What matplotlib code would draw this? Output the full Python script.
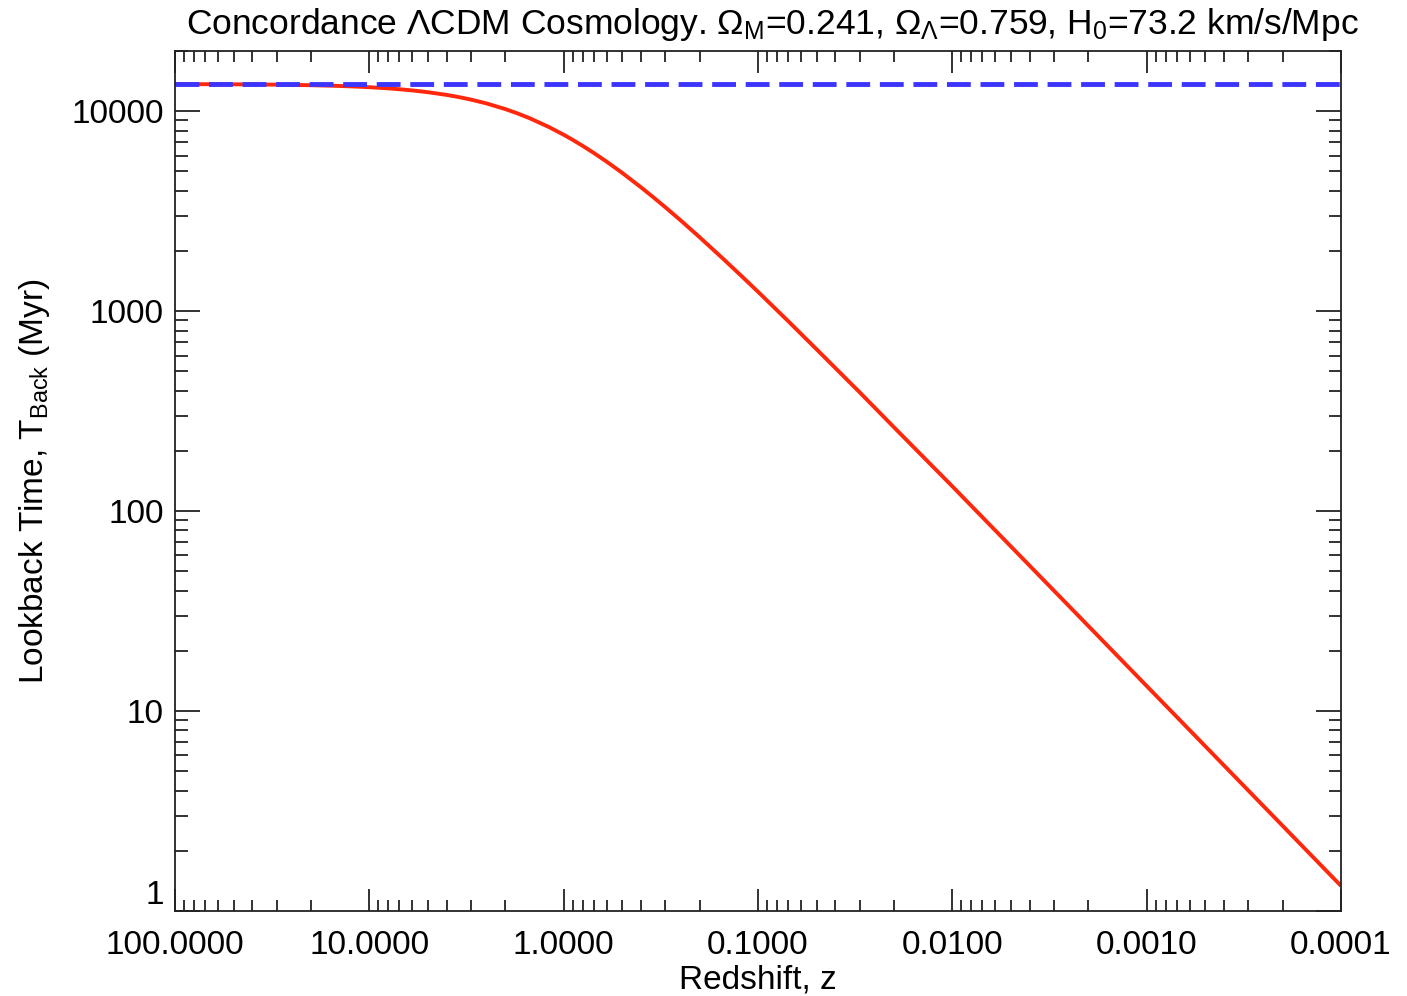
import numpy as np
import matplotlib
matplotlib.use("Agg")
import matplotlib.pyplot as plt
from matplotlib.ticker import LogLocator, FixedLocator, FixedFormatter, NullFormatter

plt.rcParams['font.family'] = ['Liberation Sans', 'DejaVu Sans']
plt.rcParams['mathtext.fontset'] = 'custom'
plt.rcParams['mathtext.rm'] = 'Liberation Sans'
plt.rcParams['mathtext.it'] = 'Liberation Sans'
plt.rcParams['mathtext.bf'] = 'Liberation Sans'

# redshift and lookback time (Myr)
z = [100, 70, 50, 40, 30, 20, 15, 12, 10, 8, 7, 6, 5, 4, 3.5, 3, 2.5, 2,
     1.75, 1.5, 1.2, 1.0, 0.9, 0.8, 0.7, 0.6, 0.5, 0.4, 0.35, 0.3, 0.25,
     0.2, 0.15, 0.12, 0.1, 0.07, 0.05, 0.03, 0.02, 0.01, 0.005, 0.002,
     0.001, 0.0005, 0.0001]
t_back = [13659, 13647, 13627, 13608, 13572, 13488, 13394, 13290, 13180,
          13006, 12876, 12699, 12446, 12061, 11788, 11428, 10939, 10250,
          9793, 9229, 8361, 7624, 7194, 6716, 6183, 5586, 4916, 4161, 3749,
          3310, 2843, 2345, 1815, 1480, 1250, 892, 645, 393, 263, 133, 66.6,
          26.7, 13.35, 6.68, 1.336]
# age of the universe (dashed line)
t_age = 13677

xticks = [100, 10, 1, 0.1, 0.01, 0.001, 0.0001]
xticklabels = ['100.0000', '10.0000', '1.0000', '0.1000', '0.0100', '0.0010', '0.0001']
yticks = [1, 10, 100, 1000, 10000]
yticklabels = ['1', '10', '100', '1000', '10000']

fig = plt.figure(figsize=(14.07, 9.96), dpi=100)
ax = fig.add_axes([0.1244, 0.0853, 0.9531 - 0.1244, 0.9488 - 0.0853])

ax.plot(z, t_back, color='#ff280c', lw=2.8, solid_capstyle='butt')
ax.plot([100, 0.0001], [t_age, t_age], color='#3c34ff', lw=3.5,
        dashes=(4.9, 2.0), solid_capstyle='butt', dash_capstyle='butt')

ax.set_xscale('log')
ax.set_yscale('log')
ax.set_xlim(100, 0.0001)
ax.set_ylim(1, 20000)

ax.xaxis.set_major_locator(FixedLocator(xticks))
ax.xaxis.set_major_formatter(FixedFormatter(xticklabels))
ax.xaxis.set_minor_locator(LogLocator(base=10, subs=np.arange(2, 10), numticks=20))
ax.xaxis.set_minor_formatter(NullFormatter())
ax.yaxis.set_major_locator(FixedLocator(yticks))
ax.yaxis.set_major_formatter(FixedFormatter(yticklabels))
ax.yaxis.set_minor_locator(LogLocator(base=10, subs=np.arange(2, 10), numticks=20))
ax.yaxis.set_minor_formatter(NullFormatter())

ax.tick_params(which='both', direction='in', top=True, right=True,
               labelsize=24, width=1.3, color='#222222')
ax.tick_params(axis='x', which='major', length=16, pad=14)
ax.tick_params(axis='x', which='minor', length=8)
ax.tick_params(axis='y', which='major', length=18, pad=8)
ax.tick_params(axis='y', which='minor', length=9)
for s in ax.spines.values():
    s.set_linewidth(1.3)
    s.set_color('#222222')

fig.canvas.draw()
ax.get_yticklabels()[0].set_verticalalignment('bottom')

ax.set_title(r"Concordance $\Lambda$CDM Cosmology. $\Omega_{\rm M}$=0.241, "
             r"$\Omega_\Lambda$=0.759, H$_0$=73.2 km/s/Mpc", fontsize=25.5,
             pad=12, x=0.512)
ax.set_xlabel("Redshift, z", fontsize=24, labelpad=2)
ax.set_ylabel(r"Lookback Time, T$_{\rm Back}$ (Myr)", fontsize=24, labelpad=14)

fig.savefig("out.png", dpi=100)
